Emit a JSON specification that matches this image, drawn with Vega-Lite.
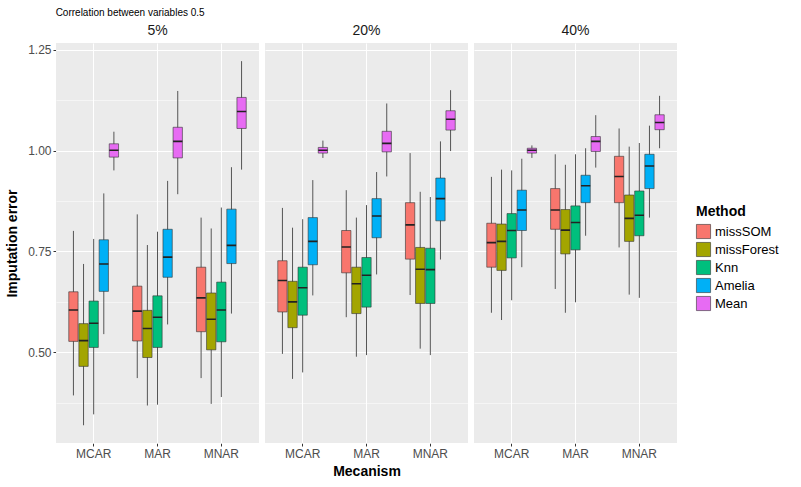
{
"$schema":"https://vega.github.io/schema/vega-lite/v6.json",
"padding":{"left":5,"top":8,"right":5,"bottom":2},
"background":"white",
"title":{"text":"Correlation between variables 0.5","anchor":"start","dx":50,"fontSize":10,"fontWeight":"normal","font":"Liberation Sans","color":"black","offset":6},
"data":{"values":[
{"p":"5%","m":"MCAR","meth":"missSOM","lo":0.393,"q1":0.527,"med":0.605,"q3":0.650,"hi":0.801},
{"p":"5%","m":"MCAR","meth":"missForest","lo":0.319,"q1":0.465,"med":0.529,"q3":0.571,"hi":0.719},
{"p":"5%","m":"MCAR","meth":"Knn","lo":0.346,"q1":0.512,"med":0.572,"q3":0.627,"hi":0.781},
{"p":"5%","m":"MCAR","meth":"Amelia","lo":0.545,"q1":0.651,"med":0.719,"q3":0.779,"hi":0.894},
{"p":"5%","m":"MCAR","meth":"Mean","lo":0.951,"q1":0.984,"med":1.001,"q3":1.017,"hi":1.047},
{"p":"5%","m":"MAR","meth":"missSOM","lo":0.436,"q1":0.528,"med":0.602,"q3":0.664,"hi":0.842},
{"p":"5%","m":"MAR","meth":"missForest","lo":0.368,"q1":0.487,"med":0.559,"q3":0.604,"hi":0.766},
{"p":"5%","m":"MAR","meth":"Knn","lo":0.370,"q1":0.512,"med":0.587,"q3":0.640,"hi":0.799},
{"p":"5%","m":"MAR","meth":"Amelia","lo":0.569,"q1":0.686,"med":0.736,"q3":0.805,"hi":0.925},
{"p":"5%","m":"MAR","meth":"Mean","lo":0.892,"q1":0.982,"med":1.023,"q3":1.058,"hi":1.148},
{"p":"5%","m":"MNAR","meth":"missSOM","lo":0.436,"q1":0.551,"med":0.635,"q3":0.711,"hi":0.834},
{"p":"5%","m":"MNAR","meth":"missForest","lo":0.372,"q1":0.506,"med":0.582,"q3":0.647,"hi":0.807},
{"p":"5%","m":"MNAR","meth":"Knn","lo":0.389,"q1":0.526,"med":0.605,"q3":0.674,"hi":0.859},
{"p":"5%","m":"MNAR","meth":"Amelia","lo":0.596,"q1":0.720,"med":0.765,"q3":0.855,"hi":0.959},
{"p":"5%","m":"MNAR","meth":"Mean","lo":0.953,"q1":1.055,"med":1.097,"q3":1.132,"hi":1.222},
{"p":"20%","m":"MCAR","meth":"missSOM","lo":0.496,"q1":0.600,"med":0.678,"q3":0.727,"hi":0.858},
{"p":"20%","m":"MCAR","meth":"missForest","lo":0.434,"q1":0.561,"med":0.625,"q3":0.676,"hi":0.809},
{"p":"20%","m":"MCAR","meth":"Knn","lo":0.450,"q1":0.592,"med":0.660,"q3":0.711,"hi":0.830},
{"p":"20%","m":"MCAR","meth":"Amelia","lo":0.641,"q1":0.717,"med":0.775,"q3":0.834,"hi":0.927},
{"p":"20%","m":"MCAR","meth":"Mean","lo":0.982,"q1":0.994,"med":1.001,"q3":1.008,"hi":1.025},
{"p":"20%","m":"MAR","meth":"missSOM","lo":0.587,"q1":0.697,"med":0.761,"q3":0.802,"hi":0.902},
{"p":"20%","m":"MAR","meth":"missForest","lo":0.489,"q1":0.596,"med":0.670,"q3":0.711,"hi":0.834},
{"p":"20%","m":"MAR","meth":"Knn","lo":0.493,"q1":0.612,"med":0.691,"q3":0.735,"hi":0.865},
{"p":"20%","m":"MAR","meth":"Amelia","lo":0.693,"q1":0.784,"med":0.838,"q3":0.881,"hi":0.947},
{"p":"20%","m":"MAR","meth":"Mean","lo":0.936,"q1":0.997,"med":1.018,"q3":1.048,"hi":1.117},
{"p":"20%","m":"MNAR","meth":"missSOM","lo":0.642,"q1":0.731,"med":0.816,"q3":0.871,"hi":0.994},
{"p":"20%","m":"MNAR","meth":"missForest","lo":0.509,"q1":0.621,"med":0.706,"q3":0.760,"hi":0.898},
{"p":"20%","m":"MNAR","meth":"Knn","lo":0.493,"q1":0.621,"med":0.705,"q3":0.758,"hi":0.885},
{"p":"20%","m":"MNAR","meth":"Amelia","lo":0.730,"q1":0.826,"med":0.881,"q3":0.932,"hi":1.023},
{"p":"20%","m":"MNAR","meth":"Mean","lo":0.999,"q1":1.051,"med":1.078,"q3":1.099,"hi":1.150},
{"p":"40%","m":"MCAR","meth":"missSOM","lo":0.598,"q1":0.711,"med":0.772,"q3":0.820,"hi":0.935},
{"p":"40%","m":"MCAR","meth":"missForest","lo":0.580,"q1":0.703,"med":0.775,"q3":0.818,"hi":0.953},
{"p":"40%","m":"MCAR","meth":"Knn","lo":0.629,"q1":0.734,"med":0.802,"q3":0.844,"hi":0.951},
{"p":"40%","m":"MCAR","meth":"Amelia","lo":0.711,"q1":0.802,"med":0.853,"q3":0.902,"hi":0.980},
{"p":"40%","m":"MCAR","meth":"Mean","lo":0.982,"q1":0.994,"med":1.001,"q3":1.006,"hi":1.013},
{"p":"40%","m":"MAR","meth":"missSOM","lo":0.657,"q1":0.805,"med":0.853,"q3":0.906,"hi":0.991},
{"p":"40%","m":"MAR","meth":"missForest","lo":0.598,"q1":0.744,"med":0.803,"q3":0.854,"hi":0.965},
{"p":"40%","m":"MAR","meth":"Knn","lo":0.624,"q1":0.754,"med":0.822,"q3":0.863,"hi":0.991},
{"p":"40%","m":"MAR","meth":"Amelia","lo":0.789,"q1":0.871,"med":0.913,"q3":0.939,"hi":1.006},
{"p":"40%","m":"MAR","meth":"Mean","lo":0.958,"q1":0.998,"med":1.023,"q3":1.035,"hi":1.088},
{"p":"40%","m":"MNAR","meth":"missSOM","lo":0.760,"q1":0.871,"med":0.936,"q3":0.986,"hi":1.055},
{"p":"40%","m":"MNAR","meth":"missForest","lo":0.643,"q1":0.775,"med":0.832,"q3":0.890,"hi":1.010},
{"p":"40%","m":"MNAR","meth":"Knn","lo":0.635,"q1":0.789,"med":0.840,"q3":0.900,"hi":1.019},
{"p":"40%","m":"MNAR","meth":"Amelia","lo":0.834,"q1":0.906,"med":0.962,"q3":0.991,"hi":1.062},
{"p":"40%","m":"MNAR","meth":"Mean","lo":1.006,"q1":1.052,"med":1.070,"q3":1.089,"hi":1.136}
]},
"facet":{"column":{"field":"p","type":"nominal","sort":["5%","20%","40%"],
  "header":{"title":"Mecanism","titleOrient":"bottom","titleFontSize":14,"titleFontWeight":"bold","titleFont":"Liberation Sans","titleColor":"black","titlePadding":-4,
   "labelOrient":"top","labelFontSize":14,"labelFont":"Liberation Sans","labelColor":"#1a1a1a","labelPadding":5}}},
"spacing":6,
"spec":{
 "width":203,"height":400,
 "encoding":{
  "x":{"field":"m","type":"nominal","sort":["MCAR","MAR","MNAR"],"title":null,
    "scale":{"paddingInner":0.22,"paddingOuter":0.2},
    "axis":{"labelAngle":0,"labelFontSize":12,"labelColor":"#4d4d4d","labelFont":"Liberation Sans","tickColor":"#333","tickSize":3,"labelPadding":2,"domain":false,"grid":true,"gridColor":"white","gridWidth":1,"bandPosition":0.5}},
  "xOffset":{"field":"meth","type":"nominal","sort":["missSOM","missForest","Knn","Amelia","Mean"],"scale":{"paddingInner":0.08}},
  "color":{"field":"meth","type":"nominal","sort":["missSOM","missForest","Knn","Amelia","Mean"],
    "scale":{"domain":["missSOM","missForest","Knn","Amelia","Mean"],"range":["#F8766D","#A3A500","#00BF7D","#00B0F6","#E76BF3"]},
    "legend":null}
 },
 "layer":[
  {"mark":{"type":"rule","color":"#555","strokeWidth":1},
   "encoding":{"y":{"field":"lo","type":"quantitative","title":"Imputation error",
     "scale":{"domain":[0.275,1.267],"nice":false,"zero":false},
     "axis":{"values":[0.375,0.5,0.625,0.75,0.875,1,1.125,1.25],"format":".2f",
       "labelExpr":"datum.value==0.5||datum.value==0.75||datum.value==1||datum.value==1.25 ? datum.label : ''",
       "gridColor":"white","gridWidth":{"condition":{"test":"datum.value==0.5||datum.value==0.75||datum.value==1||datum.value==1.25","value":1},"value":0.5},
       "tickOpacity":{"condition":{"test":"datum.value==0.5||datum.value==0.75||datum.value==1||datum.value==1.25","value":1},"value":0},
       "tickColor":"#333","tickSize":3,"domain":false,"labelFontSize":12,"labelColor":"#4d4d4d","labelFont":"Liberation Sans",
       "titleFontSize":14,"titleFont":"Liberation Sans","titleFontWeight":"bold","titleColor":"black","titlePadding":8}},
    "y2":{"field":"hi"},"color":{"value":"#555"}}},
  {"mark":{"type":"bar","stroke":"#333","strokeWidth":0.6,"opacity":1},
   "encoding":{"y":{"field":"q1","type":"quantitative"},"y2":{"field":"q3"},
    "color":{"field":"meth","type":"nominal","sort":["missSOM","missForest","Knn","Amelia","Mean"],
     "legend":{"title":"Method","orient":"none","legendX":640,"legendY":162,"titleFontSize":14,"titleFont":"Liberation Sans","titleFontWeight":"bold","titleColor":"black","labelFontSize":13,"labelFont":"Liberation Sans","labelColor":"black","symbolType":"square","symbolSize":200,"symbolStrokeColor":"#333","symbolStrokeWidth":0.6,"rowPadding":1}}}},
  {"mark":{"type":"rect","stroke":"#222","strokeWidth":1.6,"fill":null},
   "encoding":{"y":{"field":"med","type":"quantitative"},"y2":{"field":"med"},"color":{"value":"#222"}}}
 ]
},
"config":{"view":{"fill":"#EBEBEB","stroke":null},"font":"Liberation Sans"}
}
